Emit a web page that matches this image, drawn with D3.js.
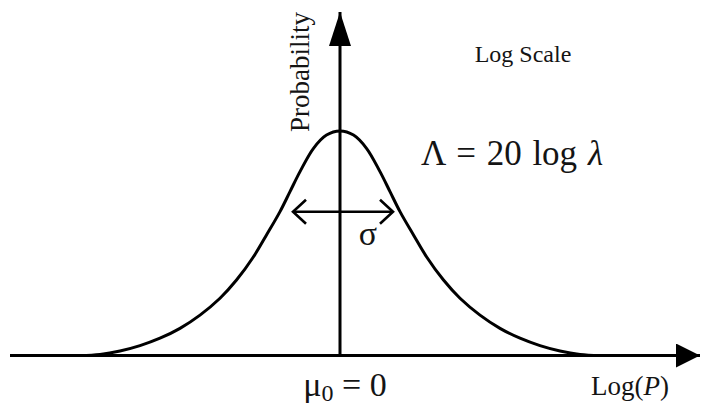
<!DOCTYPE html>
<html>
<head>
<meta charset="utf-8">
<script src="https://cdn.jsdelivr.net/npm/d3@7"></script>
<style>
  html, body { margin: 0; padding: 0; background: #fff; }
  svg { display: block; }
</style>
</head>
<body>
<svg id="chart" width="703" height="405"></svg>
<script>
// Bell-shaped probability curve over Log(P), in units of sigma
const logP = [-5.2, -4.8, -4.4, -4.0, -3.6, -3.2, -2.8, -2.4, -2.07, -1.73, -1.47, -1.2, -1.0, -0.8, -0.53, -0.27,
              0,
              0.27, 0.53, 0.8, 1.0, 1.2, 1.47, 1.73, 2.07, 2.4, 2.8, 3.2, 3.6, 4.0, 4.4, 4.8, 5.2];
const probability = [0, 0.005, 0.020, 0.044, 0.077, 0.121, 0.180, 0.255, 0.336, 0.440, 0.537, 0.641, 0.730, 0.819, 0.923, 0.982,
                     1,
                     0.982, 0.923, 0.819, 0.730, 0.641, 0.537, 0.440, 0.336, 0.255, 0.180, 0.121, 0.077, 0.044, 0.020, 0.005, 0];

// Axis extents (data units) and the span of the sigma arrow
const xExtent = [-6.6, 7.2];
const yExtent = [0, 1.53];
const sigmaSpan = [-0.94, 1.06];
const sigmaLevel = 0.64;

const SERIF = "'Liberation Serif', 'Times New Roman', Times, serif";

const svg = d3.select("#chart");

const x = d3.scaleLinear().domain(xExtent).range([10, 700]);
const y = d3.scaleLinear().domain([0, 1]).range([355.5, 131]);

const defs = svg.append("defs");
defs.append("marker")
  .attr("id", "solidHead")
  .attr("viewBox", "0 0 34 22")
  .attr("refX", 34).attr("refY", 11)
  .attr("markerUnits", "userSpaceOnUse")
  .attr("markerWidth", 34).attr("markerHeight", 22)
  .attr("orient", "auto")
  .append("path").attr("d", "M0,0 L34,11 L0,22 Z").attr("fill", "#000");

defs.append("marker")
  .attr("id", "solidHeadX")
  .attr("viewBox", "0 0 24 24")
  .attr("refX", 24).attr("refY", 12)
  .attr("markerUnits", "userSpaceOnUse")
  .attr("markerWidth", 24).attr("markerHeight", 24)
  .attr("orient", "auto")
  .append("path").attr("d", "M0,0 L24,12 L0,24 Z").attr("fill", "#000");

defs.append("marker")
  .attr("id", "openHead")
  .attr("viewBox", "-16 -14 18 28")
  .attr("refX", 0).attr("refY", 0)
  .attr("markerUnits", "userSpaceOnUse")
  .attr("markerWidth", 18).attr("markerHeight", 28)
  .attr("orient", "auto-start-reverse")
  .append("path").attr("d", "M-13,-12 L0,0 L-13,12")
  .attr("fill", "none").attr("stroke", "#000").attr("stroke-width", 2.6);

// Horizontal axis with arrow
svg.append("line")
  .attr("x1", x(xExtent[0])).attr("x2", x(xExtent[1]))
  .attr("y1", y(0)).attr("y2", y(0))
  .attr("stroke", "#000").attr("stroke-width", 3)
  .attr("marker-end", "url(#solidHeadX)");

// Vertical axis with arrow
svg.append("line")
  .attr("x1", x(0)).attr("x2", x(0))
  .attr("y1", y(0)).attr("y2", y(yExtent[1]))
  .attr("stroke", "#000").attr("stroke-width", 3)
  .attr("marker-end", "url(#solidHead)");

// The curve
const line = d3.line()
  .x((d, i) => x(logP[i]))
  .y(d => y(d))
  .curve(d3.curveCatmullRom.alpha(0.5));

svg.append("path")
  .attr("d", line(probability))
  .attr("fill", "none")
  .attr("stroke", "#000")
  .attr("stroke-width", 3);

// Sigma width arrow
svg.append("line")
  .attr("x1", x(sigmaSpan[0])).attr("x2", x(sigmaSpan[1]))
  .attr("y1", y(sigmaLevel)).attr("y2", y(sigmaLevel))
  .attr("stroke", "#000").attr("stroke-width", 2.6)
  .attr("marker-start", "url(#openHead)")
  .attr("marker-end", "url(#openHead)");

// Labels
function label(tx, ty, size) {
  return svg.append("text")
    .attr("x", tx).attr("y", ty)
    .attr("text-anchor", "middle")
    .attr("font-family", SERIF)
    .attr("font-size", size)
    .attr("fill", "#141414");
}

label(0, 0, 27)
  .attr("transform", `translate(${x(0) - 31},${72}) rotate(-90)`)
  .text("Probability");

label(523, 62, 24).text("Log Scale");

const eq = label(512, 165, 35).attr("word-spacing", 2);
eq.append("tspan").text("\u039B = 20 log ");
eq.append("tspan").attr("font-style", "italic").text("\u03BB");

label(368, 245, 34).text("\u03C3");

const mu = label(x(0) + 5, 396, 34);
mu.append("tspan").text("\u03BC");
mu.append("tspan").attr("font-size", 24).attr("dy", 5).text("0");
mu.append("tspan").attr("dy", -5).text(" = 0");

const lp = label(630, 395, 27);
lp.append("tspan").text("Log(");
lp.append("tspan").attr("font-style", "italic").text("P");
lp.append("tspan").text(")");
</script>
</body>
</html>
